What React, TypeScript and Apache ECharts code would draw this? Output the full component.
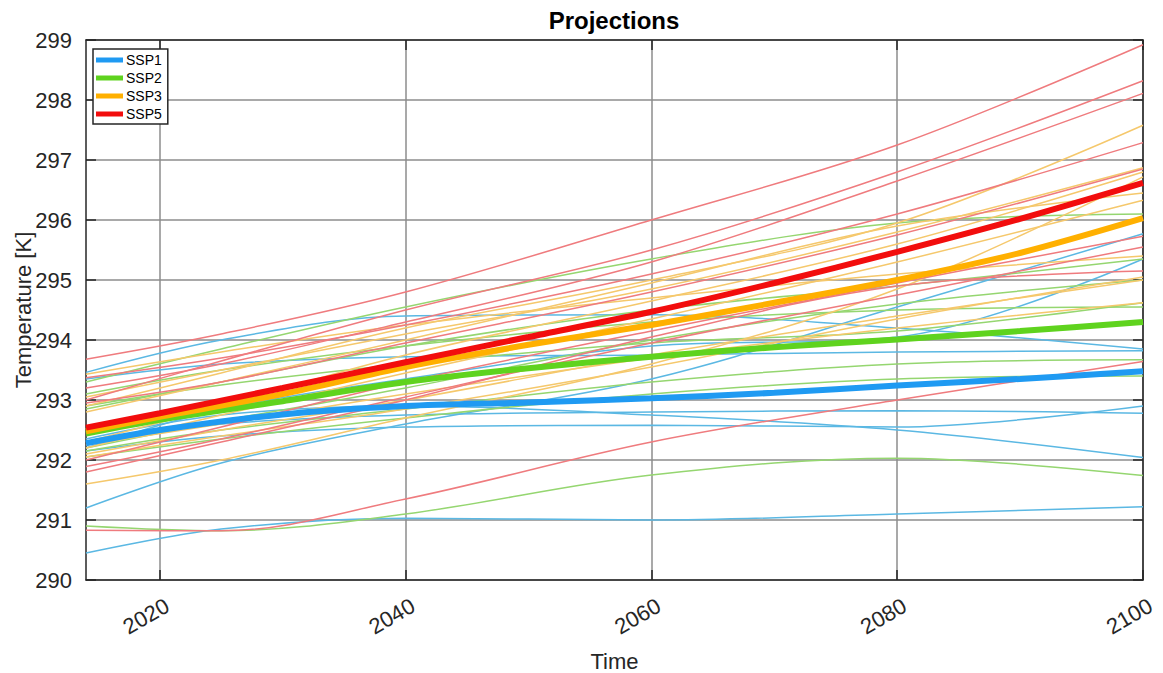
import React, { useEffect, useRef } from "react";
import * as echarts from "echarts";

const FONT = "'Liberation Sans', Arial, Helvetica, sans-serif";
const TEXT = "#262626";

// Ensemble-mean curves
const meanYears = [2014, 2020, 2030, 2040, 2050, 2060, 2070, 2080, 2090, 2100];
const ssp1Mean = [292.28, 292.5, 292.76, 292.9, 292.96, 293.03, 293.12, 293.24, 293.35, 293.48];
const ssp2Mean = [292.44, 292.67, 292.98, 293.3, 293.53, 293.72, 293.88, 294.01, 294.15, 294.3];
const ssp3Mean = [292.48, 292.72, 293.1, 293.55, 293.92, 294.25, 294.62, 295.0, 295.45, 296.03];
const ssp5Mean = [292.54, 292.78, 293.2, 293.63, 294.05, 294.47, 294.95, 295.47, 296.02, 296.62];

// Individual model runs
const memberYears = [2014, 2025, 2040, 2060, 2080, 2100];

const ssp1Members = [
  [293.46, 294.0, 294.4, 294.42, 294.2, 293.85],
  [291.2, 291.95, 292.6, 293.35, 294.55, 295.77],
  [292.2, 292.85, 293.35, 293.9, 294.05, 295.35],
  [293.35, 293.6, 293.72, 293.75, 293.8, 293.82],
  [292.3, 292.6, 292.75, 292.8, 292.82, 292.78],
  [292.15, 292.4, 292.55, 292.58, 292.55, 292.9],
  [292.35, 292.75, 292.9, 292.75, 292.5, 292.04],
  [290.45, 290.85, 291.03, 291.0, 291.1, 291.22],
];

const ssp2Members = [
  [293.3, 293.85, 294.55, 295.35, 295.95, 296.1],
  [292.85, 293.3, 293.9, 294.5, 294.9, 295.35],
  [292.2, 292.65, 293.2, 294.0, 294.6, 295.0],
  [293.1, 293.5, 293.9, 294.3, 294.5, 294.55],
  [292.15, 292.5, 292.85, 293.3, 293.6, 293.67],
  [292.05, 292.35, 292.7, 293.1, 293.35, 293.4],
  [290.9, 290.82, 291.1, 291.75, 292.03, 291.74],
  [292.9, 293.25, 293.6, 293.95, 294.15, 294.62],
];

const ssp3Members = [
  [292.9, 293.45, 294.2, 295.0, 295.95, 297.58],
  [293.05, 293.5, 294.1, 294.85, 295.8, 296.87],
  [292.3, 292.9, 293.75, 294.65, 295.6, 296.8],
  [291.6, 292.0, 292.7, 293.6, 294.85, 296.72],
  [292.8, 293.3, 294.0, 294.95, 295.9, 296.45],
  [292.2, 292.75, 293.45, 294.35, 295.3, 296.33],
  [292.1, 292.5, 293.0, 293.75, 294.4, 295.0],
  [292.25, 292.6, 293.1, 293.7, 294.2, 294.62],
  [293.43, 293.8, 294.25, 294.7, 295.1, 295.4],
  [292.05, 292.4, 292.85, 293.55, 294.35, 295.05],
];

const ssp5Members = [
  [293.68, 294.1, 294.8, 296.0, 297.25, 298.92],
  [293.0, 293.65, 294.5, 295.5, 296.8, 298.32],
  [293.2, 293.6, 294.3, 295.3, 296.65, 298.11],
  [293.37, 293.7, 294.25, 295.1, 296.1, 297.29],
  [292.95, 293.3, 293.95, 294.8, 295.75, 296.85],
  [292.0, 292.55, 293.3, 294.15, 294.95, 295.73],
  [291.89, 292.35, 293.05, 293.95, 294.75, 295.55],
  [291.8, 292.3, 293.0, 294.05, 294.9, 295.15],
  [290.83, 290.82, 291.35, 292.3, 293.0, 293.64],
];

const scenarios = ["SSP1", "SSP2", "SSP3", "SSP5"];
const meanColors = ["#1f9af2", "#5fd31e", "#ffb000", "#f20d0d"];
const memberColors = ["#5bb8e3", "#95d670", "#f5c86c", "#ef7b7e"];

const xTicks = [2020, 2040, 2060, 2080, 2100];

const pairs = (xs: number[], ys: number[]) => xs.map((x, i) => [x, ys[i]]);

export default function App() {
  const ref = useRef<HTMLDivElement>(null);

  useEffect(() => {
    if (!ref.current) return;
    const chart = echarts.init(ref.current, undefined, { renderer: "svg" });

    const memberSets = [ssp1Members, ssp2Members, ssp3Members, ssp5Members];
    const means = [ssp1Mean, ssp2Mean, ssp3Mean, ssp5Mean];

    const series: any[] = [];
    memberSets.forEach((set, s) => {
      set.forEach((vals, k) => {
        series.push({
          type: "line",
          name: `${scenarios[s]} run ${k + 1}`,
          data: pairs(memberYears, vals),
          smooth: 0.35,
          showSymbol: false,
          symbol: "none",
          silent: true,
          lineStyle: { color: memberColors[s], width: 1.5 },
          itemStyle: { color: memberColors[s] },
        });
      });
    });
    means.forEach((vals, s) => {
      series.push({
        type: "line",
        name: scenarios[s],
        data: pairs(meanYears, vals),
        smooth: 0.3,
        showSymbol: false,
        symbol: "none",
        lineStyle: { color: meanColors[s], width: 6 },
        itemStyle: { color: meanColors[s] },
      });
    });

    const axisLine = { show: true, onZero: false, lineStyle: { color: TEXT, width: 1.5 } };
    const tickStyle = { color: TEXT, width: 1.5 };

    chart.setOption({
      animation: false,
      backgroundColor: "#ffffff",
      textStyle: { fontFamily: FONT },
      title: {
        text: "Projections",
        left: 614,
        top: 8,
        padding: 0,
        textAlign: "center",
        textStyle: { fontSize: 24, fontWeight: "bold", color: "#000", fontFamily: FONT },
      },
      legend: {
        data: scenarios,
        orient: "vertical",
        left: 93,
        top: 49,
        icon: "rect",
        itemWidth: 27,
        itemHeight: 5,
        itemGap: 4,
        padding: [4, 6, 3, 3],
        borderColor: TEXT,
        borderWidth: 1.5,
        borderRadius: 0,
        backgroundColor: "#ffffff",
        textStyle: { fontSize: 14, color: "#000", fontFamily: FONT, padding: [0, 0, 0, -2] },
      },
      grid: { left: 86, right: 20, top: 40, bottom: 93, containLabel: false, outerBoundsMode: "none" },
      xAxis: [
        {
          type: "value",
          min: 2014,
          max: 2100,
          position: "bottom",
          axisLine,
          axisTick: { show: true, inside: true, length: 10, customValues: xTicks, lineStyle: tickStyle },
          axisLabel: {
            customValues: xTicks,
            formatter: (v: number) => String(v),
            rotate: 30,
            fontSize: 22,
            lineHeight: 30,
            verticalAlign: "top",
            color: TEXT,
            margin: 11,
            fontFamily: FONT,
          },
          splitLine: { show: true, lineStyle: { color: "#8c8c8c", width: 1.5 } },
          name: "Time",
          nameLocation: "middle",
          nameGap: 70,
          nameTextStyle: { fontSize: 22, color: TEXT, fontFamily: FONT },
        },
        {
          type: "value",
          min: 2014,
          max: 2100,
          position: "top",
          axisLine,
          axisTick: { show: true, inside: true, length: 10, customValues: xTicks, lineStyle: tickStyle },
          axisLabel: { show: false },
          splitLine: { show: false },
        },
      ],
      yAxis: [
        {
          type: "value",
          min: 290,
          max: 299,
          interval: 1,
          position: "left",
          axisLine,
          axisTick: { show: true, inside: true, length: 10, lineStyle: tickStyle },
          axisLabel: { fontSize: 22, color: TEXT, margin: 14, fontFamily: FONT },
          splitLine: { show: true, lineStyle: { color: "#8c8c8c", width: 1.5 } },
          name: "Temperature [K]",
          nameLocation: "middle",
          nameRotate: 90,
          nameGap: 52,
          nameMoveOverlap: false,
          nameTextStyle: { fontSize: 22, color: TEXT, fontFamily: FONT },
        },
        {
          type: "value",
          min: 290,
          max: 299,
          interval: 1,
          position: "right",
          axisLine,
          axisTick: { show: true, inside: true, length: 10, lineStyle: tickStyle },
          axisLabel: { show: false },
          splitLine: { show: false },
        },
      ],
      series,
    });

    return () => chart.dispose();
  }, []);

  return (
    <div
      ref={ref}
      style={{ position: "absolute", left: 0, top: 0, width: 1163, height: 673, background: "#fff" }}
    />
  );
}
